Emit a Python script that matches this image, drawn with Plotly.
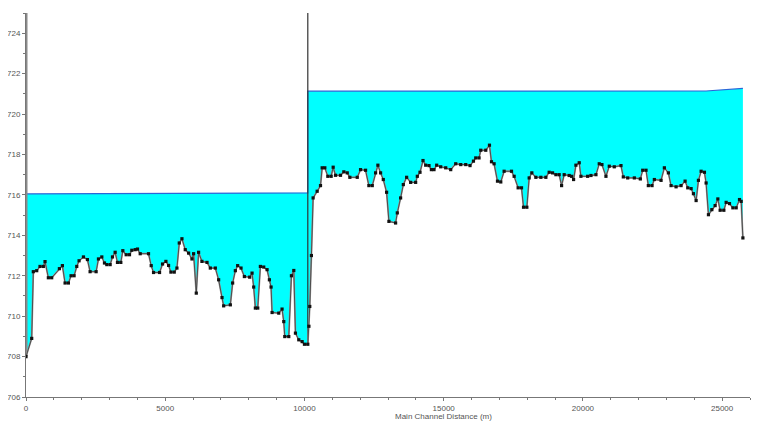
import plotly.graph_objects as go

# Ground profile (main channel distance in m, elevation in m)
ground_dist = [0, 205, 263, 385, 503, 623, 683, 803, 923, 1199, 1307, 1403, 1523, 1619, 1727,
               1823, 1906, 2063, 2206, 2302, 2518, 2602, 2722, 2818, 2902, 3022, 3106, 3201,
               3285, 3405, 3477, 3597, 3717, 3800, 3921, 4004, 4101, 4400, 4496, 4580, 4796,
               4904, 5024, 5120, 5204, 5324, 5420, 5504, 5600, 5719, 5839, 5960, 6019, 6115,
               6198, 6318, 6500, 6619, 6799, 6918, 7039, 7098, 7338, 7421, 7518, 7601, 7722,
               7842, 8033, 8118, 8177, 8237, 8322, 8417, 8537, 8657, 8741, 8801, 8837, 9077,
               9196, 9257, 9293, 9437, 9532, 9617, 9676, 9796, 9916, 10000, 10120, 10160,
               10191, 10250, 10311, 10456, 10576, 10636, 10731, 10839, 10959, 11031, 11115,
               11295, 11414, 11536, 11630, 11896, 12014, 12194, 12313, 12435, 12554, 12637,
               12734, 12831, 12950, 13033, 13273, 13334, 13453, 13550, 13669, 13813, 13993,
               14053, 14149, 14257, 14353, 14472, 14558, 14652, 14748, 14892, 15072, 15252,
               15432, 15612, 15791, 15946, 16069, 16151, 16270, 16331, 16511, 16644, 16716,
               16810, 16932, 17050, 17170, 17435, 17530, 17673, 17795, 17867, 17986, 18070,
               18165, 18309, 18489, 18669, 18788, 18910, 19029, 19147, 19234, 19327, 19507,
               19594, 19665, 19748, 19867, 19928, 20169, 20288, 20468, 20586, 20683, 20827,
               20946, 21126, 21367, 21450, 21608, 21846, 22062, 22147, 22266, 22349, 22482,
               22565, 22806, 22925, 23069, 23165, 23345, 23525, 23669, 23765, 23885, 23968,
               24065, 24148, 24245, 24364, 24424, 24508, 24630, 24748, 24845, 24928, 25061,
               25144, 25263, 25385, 25504, 25623, 25683, 25745]
ground_elev = [708.0, 708.9, 712.2, 712.25, 712.46, 712.46, 712.7, 711.9, 711.9, 712.35, 712.5,
               711.64, 711.64, 712.0, 712.0, 712.46, 712.74, 712.93, 712.8, 712.2, 712.2,
               712.83, 712.93, 712.63, 712.55, 712.55, 712.93, 713.16, 712.66, 712.66, 713.24,
               713.04, 713.04, 713.26, 713.29, 713.32, 713.09, 713.09, 712.5, 712.16, 712.16,
               712.58, 712.71, 712.51, 712.18, 712.18, 712.38, 713.62, 713.83, 713.29, 713.12,
               712.83, 713.09, 711.14, 713.16, 712.71, 712.66, 712.38, 712.38, 711.8, 710.92,
               710.51, 710.56, 711.64, 712.25, 712.5, 712.38, 711.96, 711.93, 712.13, 711.44,
               710.4, 710.4, 712.46, 712.43, 712.3, 711.8, 711.44, 710.18, 710.15, 710.35,
               709.73, 708.99, 708.99, 712.0, 712.26, 709.16, 708.83, 708.74, 708.61, 708.61,
               709.5, 710.48, 713.0, 715.85, 716.18, 716.46, 717.34, 717.34, 716.92, 716.92,
               717.37, 716.97, 716.97, 717.14, 717.09, 716.87, 716.87, 717.25, 717.22, 716.46,
               716.46, 717.09, 717.47, 717.09, 716.76, 716.13, 714.69, 714.61, 715.11, 715.85,
               716.51, 716.87, 716.62, 716.62, 716.92, 717.12, 717.7, 717.47, 717.45, 717.25,
               717.25, 717.47, 717.39, 717.34, 717.25, 717.54, 717.5, 717.5, 717.45, 717.67,
               717.83, 717.83, 718.21, 718.21, 718.46, 717.64, 717.54, 716.68, 716.64, 717.17,
               717.17, 716.92, 716.35, 716.35, 715.39, 715.39, 716.84, 717.09, 716.87, 716.87,
               716.87, 717.12, 717.09, 717.0, 717.0, 716.46, 717.0, 716.96, 716.92, 716.76,
               717.47, 717.59, 716.92, 716.92, 716.96, 717.0, 717.54, 717.5, 716.92, 717.42,
               717.39, 717.45, 716.89, 716.84, 716.84, 716.79, 717.22, 717.22, 716.46, 716.46,
               716.76, 716.72, 717.34, 717.09, 716.46, 716.4, 716.46, 716.68, 716.35, 716.31,
               716.06, 715.72, 716.72, 717.17, 717.12, 716.59, 715.02, 715.27, 715.47, 715.8,
               715.24, 715.24, 715.63, 715.57, 715.36, 715.36, 715.77, 715.68, 713.87]

# Water surface profile
ws_dist = [0, 10120, 10120, 24424, 25745]
ws_elev = [716.05, 716.1, 721.13, 721.14, 721.27]

# Vertical features: left bank wall and inline structure
wall_dist = [0, 0]
wall_elev = [708.0, 725.0]
struct_dist = [10120, 10120]
struct_elev = [708.61, 725.0]

x_ticks = [0, 5000, 10000, 15000, 20000, 25000]
y_ticks = [706, 708, 710, 712, 714, 716, 718, 720, 722, 724]

fig = go.Figure()

# water fill between ground and water surface
fig.add_trace(go.Scatter(
    x=ground_dist + ws_dist[::-1], y=ground_elev + ws_elev[::-1],
    fill="toself", fillcolor="#00ffff", mode="none", hoverinfo="skip"))

fig.add_trace(go.Scatter(x=ws_dist, y=ws_elev, mode="lines",
                         line=dict(color="#2a66d8", width=1.2)))
fig.add_trace(go.Scatter(x=wall_dist, y=wall_elev, mode="lines",
                         line=dict(color="#8a8a8a", width=3)))
fig.add_trace(go.Scatter(x=struct_dist, y=struct_elev, mode="lines",
                         line=dict(color="#333333", width=1.2)))
fig.add_trace(go.Scatter(x=ground_dist, y=ground_elev, mode="lines",
                         line=dict(color="#9a9a9a", width=1.8)))
fig.add_trace(go.Scatter(x=ground_dist, y=ground_elev, mode="lines+markers",
                         line=dict(color="#3a3a3a", width=0.8),
                         marker=dict(symbol="square", size=3.2, color="#111111")))

axis_font = dict(family="Liberation Sans, Arial, sans-serif", size=8, color="#555555")

fig.update_layout(
    width=768, height=427,
    margin=dict(l=18, r=26, t=5, b=38),
    paper_bgcolor="white", plot_bgcolor="white",
    showlegend=False,
    xaxis=dict(range=[0, 26000], tickvals=x_ticks, ticktext=[str(v) for v in x_ticks],
               showgrid=False, zeroline=False, showline=True, linecolor="#777777",
               linewidth=1, ticks="outside", ticklen=3, tickcolor="#777777",
               tickfont=axis_font, automargin=False,
               minor=dict(dtick=1000, ticks="outside", ticklen=2, tickcolor="#777777")),
    yaxis=dict(range=[706, 725], tickvals=y_ticks, ticktext=[str(v) for v in y_ticks],
               showgrid=False, zeroline=False, showline=True, linecolor="#777777",
               linewidth=1, ticks="outside", ticklen=3, tickcolor="#777777",
               tickfont=axis_font, automargin=False,
               minor=dict(dtick=1, ticks="outside", ticklen=2, tickcolor="#777777")),
    annotations=[dict(text="Main Channel Distance (m)", xref="paper", yref="paper",
                      x=0.576, y=-0.05, xanchor="center", yanchor="middle",
                      showarrow=False, font=axis_font)],
)

fig.write_html("out.html")
